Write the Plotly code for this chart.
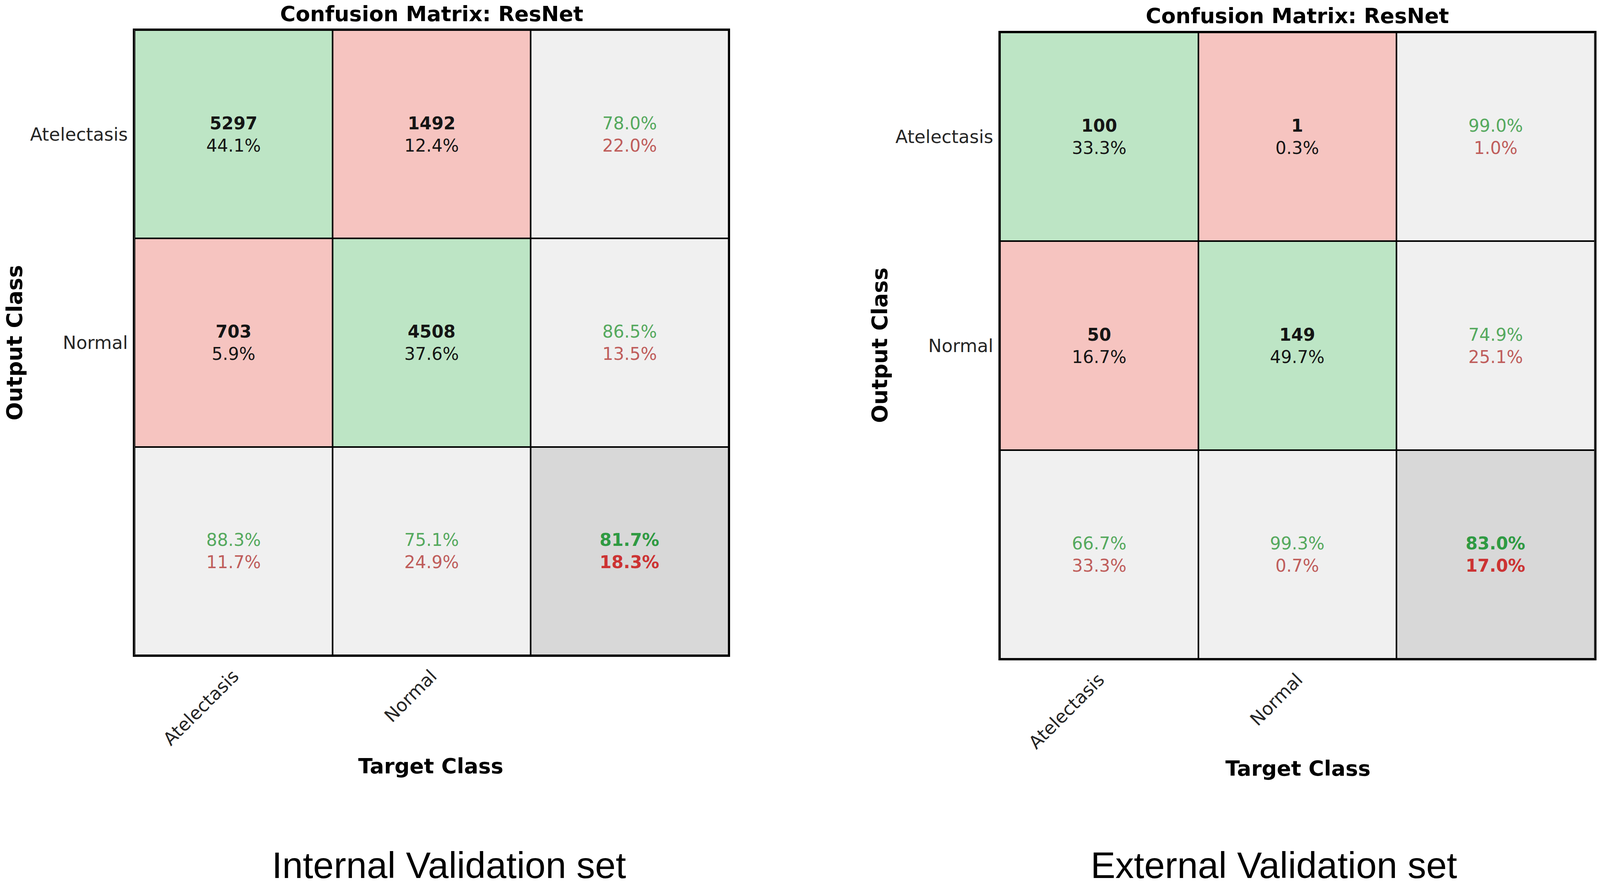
import plotly.graph_objects as go

W, H = 4317, 2270

classes = ['Atelectasis', 'Normal']

int_counts = [[5297, 1492], [703, 4508]]
int_pct = [[44.1, 12.4], [5.9, 37.6]]
int_row_ok = [78.0, 86.5]
int_row_bad = [22.0, 13.5]
int_col_ok = [88.3, 75.1]
int_col_bad = [11.7, 24.9]
int_total = [81.7, 18.3]

ext_counts = [[100, 1], [50, 149]]
ext_pct = [[33.3, 0.3], [16.7, 49.7]]
ext_row_ok = [99.0, 74.9]
ext_row_bad = [1.0, 25.1]
ext_col_ok = [66.7, 99.3]
ext_col_bad = [33.3, 0.7]
ext_total = [83.0, 17.0]

GREEN_CELL = '#bde5c5'
RED_CELL = '#f6c4c0'
GRAY_CELL = '#f0f0f0'
DARK_CELL = '#d8d8d8'
GREEN_TXT = '#55a95e'
RED_TXT = '#bf5d5b'
FONT = 'DejaVu Sans'

# colour codes: 0 diag, 1 off-diag, 2 summary, 3 overall
cscale = [[0, GREEN_CELL], [0.33, GREEN_CELL], [0.33, RED_CELL], [0.66, RED_CELL],
          [0.66, GRAY_CELL], [0.9, GRAY_CELL], [0.9, DARK_CELL], [1, DARK_CELL]]


def cell_code(i, j, n):
    if i == n and j == n:
        return 3
    if i == n or j == n:
        return 2
    return 0 if i == j else 1


def two(a, b, ca, cb, bold=False):
    if bold:
        a, b = '<b>%s</b>' % a, '<b>%s</b>' % b
    return ("<span style='color:%s'>%s</span><br><span style='color:%s'>%s</span>"
            % (ca, a, cb, b))


def add_matrix(fig, counts, pct, row_ok, row_bad, col_ok, col_bad, total, xa, ya):
    n = len(classes)
    z = [[cell_code(i, j, n) for j in range(n + 1)] for i in range(n + 1)]
    fig.add_trace(go.Heatmap(
        z=z, x=list(range(n + 1)), y=list(range(n + 1)),
        colorscale=cscale, zmin=0, zmax=3, showscale=False,
        xgap=4, ygap=4, hoverinfo='skip', xaxis=xa, yaxis=ya))
    anns = []
    for i in range(n):
        for j in range(n):
            anns.append(dict(x=j, y=i, text='<b>%d</b><br>%.1f%%' % (counts[i][j], pct[i][j])))
        anns.append(dict(x=n, y=i, text=two('%.1f%%' % row_ok[i], '%.1f%%' % row_bad[i],
                                             GREEN_TXT, RED_TXT)))
        anns.append(dict(x=i, y=n, text=two('%.1f%%' % col_ok[i], '%.1f%%' % col_bad[i],
                                             GREEN_TXT, RED_TXT)))
    anns.append(dict(x=n, y=n, text=two('%.1f%%' % total[0], '%.1f%%' % total[1],
                                         '#2f9a42', '#cc3333', bold=True)))
    for a in anns:
        a.update(xref=xa, yref=ya, showarrow=False,
                 font=dict(family=FONT, size=44, color='#151515'))
        fig.add_annotation(a)


fig = go.Figure()
add_matrix(fig, int_counts, int_pct, int_row_ok, int_row_bad, int_col_ok, int_col_bad,
           int_total, 'x', 'y')
add_matrix(fig, ext_counts, ext_pct, ext_row_ok, ext_row_bad, ext_col_ok, ext_col_bad,
           ext_total, 'x2', 'y2')

ax = dict(tickmode='array', tickvals=[0, 1, 2], ticktext=classes + [''],
          showgrid=False, zeroline=False, showline=True, linecolor='black',
          linewidth=4, mirror=True, ticks='', fixedrange=True,
          tickfont=dict(family=FONT, size=46, color='#262626'))

fig.update_layout(
    autosize=True,
    margin=dict(l=0, r=0, t=0, b=0),
    paper_bgcolor='white', plot_bgcolor='black',
    xaxis=dict(ax, domain=[363 / W, 1966 / W], range=[-0.5, 2.5], tickangle=-45,
               anchor='y', ticklabelstandoff=4),
    yaxis=dict(ax, domain=[1 - 1677 / H, 1 - 77 / H], range=[2.5, -0.5],
               anchor='x', ticklabelstandoff=4),
    xaxis2=dict(ax, domain=[2698 / W, 4303 / W], range=[-0.5, 2.5], tickangle=-45,
                anchor='y2', ticklabelstandoff=4),
    yaxis2=dict(ax, domain=[1 - 1686 / H, 1 - 83 / H], range=[2.5, -0.5],
                anchor='x2', ticklabelstandoff=4),
)

labels = [
    ('<b>Confusion Matrix: ResNet</b>', 1165, 36, 54, 0, FONT),
    ('<b>Confusion Matrix: ResNet</b>', 3500, 41, 54, 0, FONT),
    ('<b>Target Class</b>', 1162, 1960, 54, 0, FONT),
    ('<b>Target Class</b>', 3502, 1966, 54, 0, FONT),
    ('<b>Output Class</b>', 39, 877, 55, -90, FONT),
    ('<b>Output Class</b>', 2373, 884, 55, -90, FONT),
    ('Internal Validation set', 1211, 2214, 95, 0, 'Liberation Sans'),
    ('External Validation set', 3437, 2214, 95, 0, 'Liberation Sans'),
]
for txt, px, py, fs, ang, fam in labels:
    fig.add_annotation(x=px / W, y=1 - py / H, xref='paper', yref='paper',
                       text=txt, showarrow=False, textangle=ang,
                       xanchor='center', yanchor='middle',
                       font=dict(family=fam, size=fs, color='black'))

fig.write_html('out.html', default_width='100vw', default_height='100vh',
               config={'displayModeBar': False},
               post_script="document.body.style.margin='0';"
                           "document.body.style.overflow='hidden';"
                           "Plotly.Plots.resize(document.getElementById('{plot_id}'));")
